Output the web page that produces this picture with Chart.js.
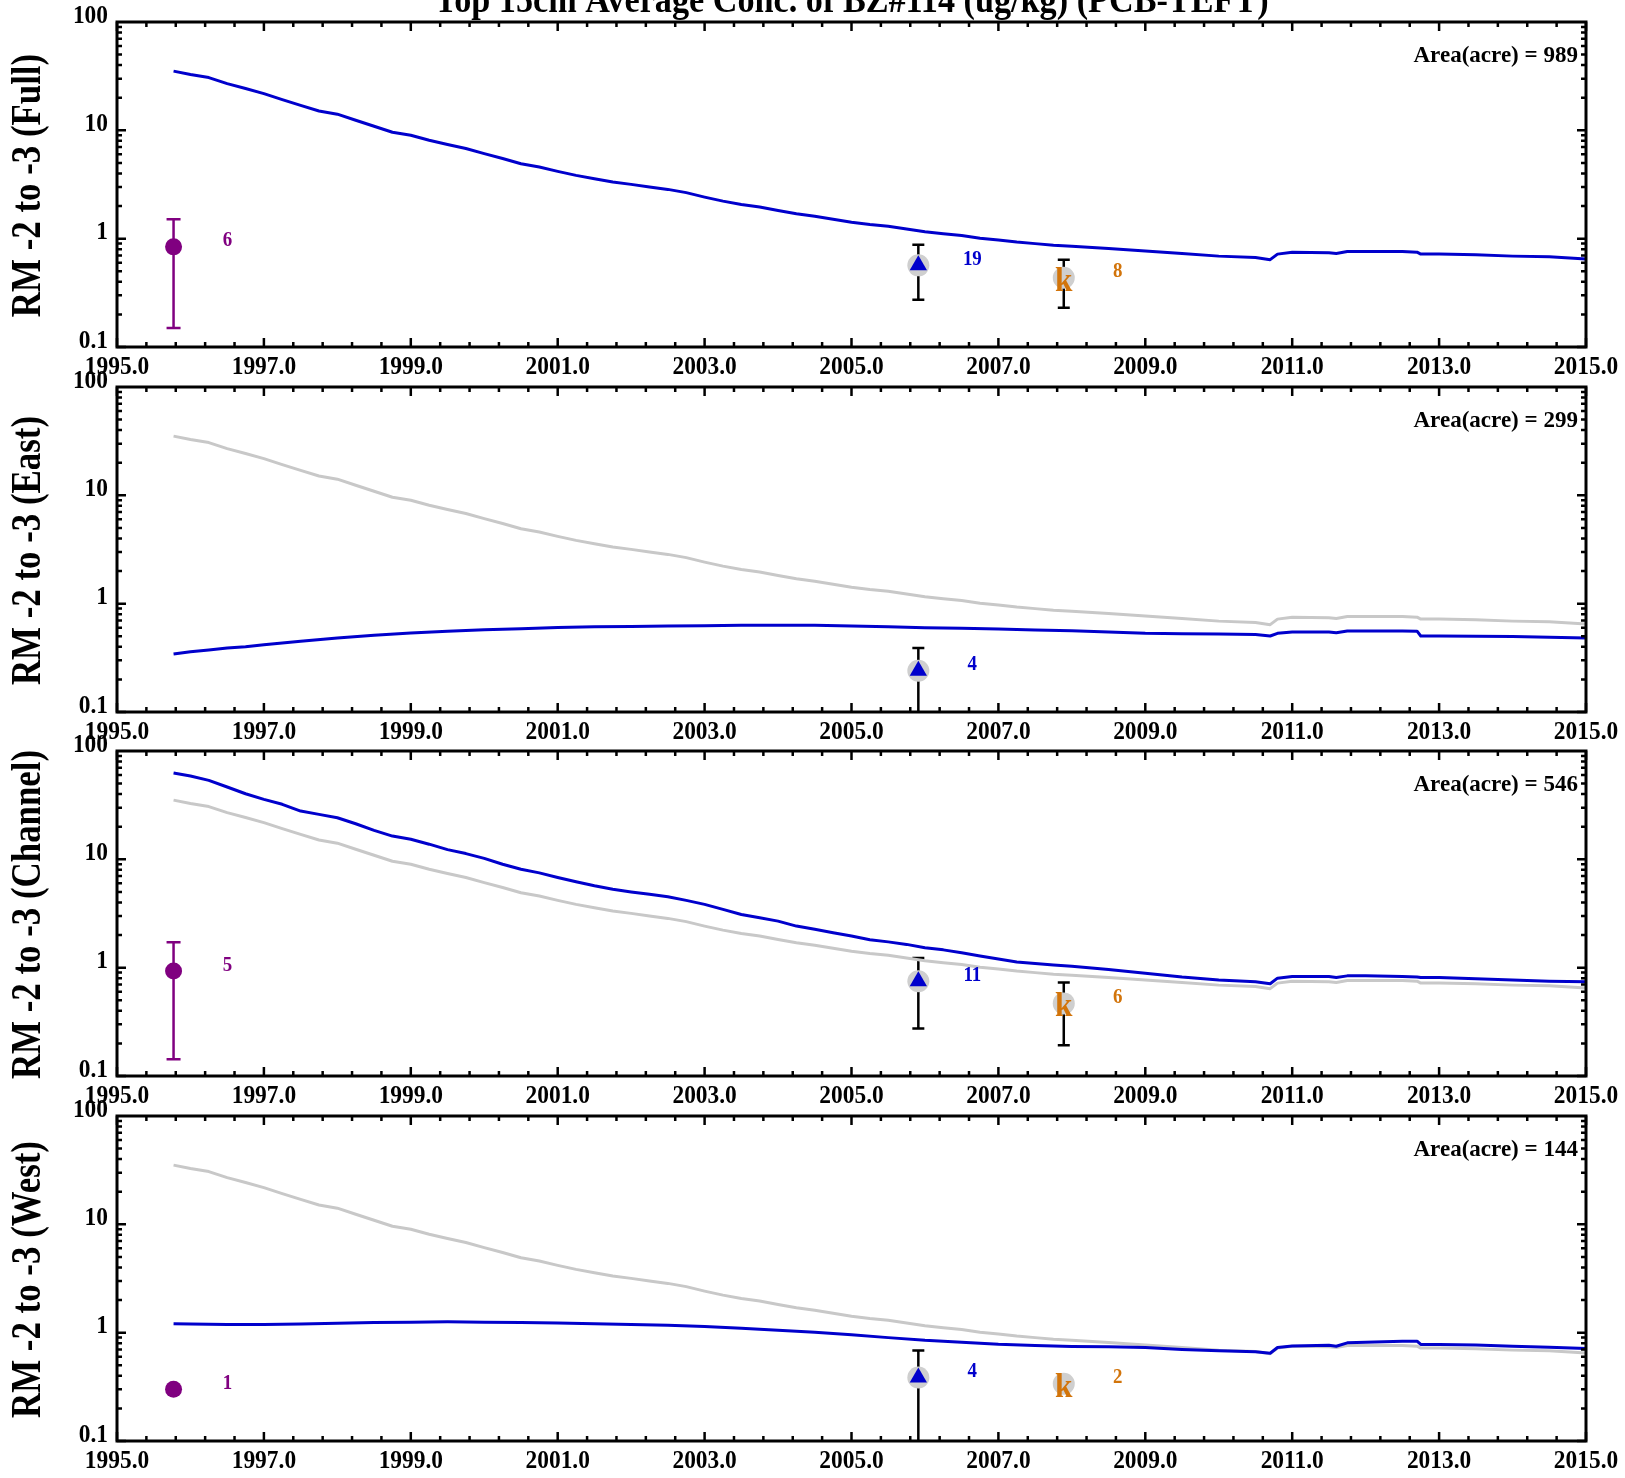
<!DOCTYPE html>
<html>
<head>
<meta charset="utf-8">
<script src="https://cdn.jsdelivr.net/npm/chart.js@4.4.1/dist/chart.umd.min.js"></script>
<style>
  body { margin: 0; background: #fff; width: 1625px; height: 1478px; overflow: hidden; position: relative; }
  canvas { position: absolute; left: 0; }
</style>
</head>
<body>
<canvas id="panel0" width="1625" height="400" style="top:0px"></canvas>
<canvas id="panel1" width="1625" height="400" style="top:365px"></canvas>
<canvas id="panel2" width="1625" height="400" style="top:729px"></canvas>
<canvas id="panel3" width="1625" height="400" style="top:1094px"></canvas>
<script>
// ---- data ----
const titleText = 'Top 15cm Average Conc. of BZ#114 (ug/kg) (PCB-TEFT)';
const panelNames = ['Full', 'East', 'Channel', 'West'];
const panelAreas = [989, 299, 546, 144];
const xTickValues = [1995, 1997, 1999, 2001, 2003, 2005, 2007, 2009, 2011, 2013, 2015];
const yTickValues = [0.1, 1, 10, 100];

const fullYears = [1995.77, 1996, 1996.25, 1996.5, 1996.75, 1997, 1997.25, 1997.5, 1997.75, 1998, 1998.25, 1998.5, 1998.75,
  1999, 1999.25, 1999.5, 1999.75, 2000, 2000.25, 2000.5, 2000.75, 2001, 2001.25, 2001.5, 2001.75, 2002, 2002.25, 2002.5,
  2002.75, 2003, 2003.25, 2003.5, 2003.75, 2004, 2004.25, 2004.5, 2004.75, 2005, 2005.25, 2005.5, 2005.75, 2006, 2006.25,
  2006.5, 2006.75, 2007, 2007.25, 2007.5, 2007.75, 2008, 2008.5, 2009, 2009.5, 2010, 2010.5, 2010.7, 2010.8, 2011, 2011.5,
  2011.6, 2011.75, 2012, 2012.5, 2012.7, 2012.75, 2013, 2013.5, 2014, 2014.5, 2015];
const fullValues = [35.2, 32.7, 30.7, 27, 24.3, 21.8, 19.2, 17, 15.1, 14.1, 12.4, 10.9, 9.6,
  9.0, 8.1, 7.4, 6.8, 6.1, 5.5, 4.92, 4.58, 4.18, 3.84, 3.58, 3.33, 3.17, 3.0, 2.85,
  2.66, 2.42, 2.22, 2.07, 1.96, 1.82, 1.70, 1.61, 1.51, 1.42, 1.35, 1.30, 1.23, 1.16, 1.11,
  1.07, 1.01, 0.97, 0.93, 0.90, 0.87, 0.85, 0.81, 0.77, 0.73, 0.69, 0.67, 0.64, 0.72, 0.75, 0.74,
  0.73, 0.76, 0.76, 0.76, 0.75, 0.72, 0.72, 0.71, 0.69, 0.68, 0.65];

const channelYears = fullYears;
const channelValues = [62.7, 58.7, 53.6, 46.5, 40.3, 35.8, 32.2, 27.9, 26.0, 24.2, 21.3, 18.5, 16.4,
  15.3, 13.8, 12.3, 11.3, 10.2, 9.0, 8.1, 7.5, 6.8, 6.2, 5.7, 5.3, 5.0, 4.75, 4.52,
  4.18, 3.84, 3.45, 3.1, 2.89, 2.69, 2.42, 2.26, 2.1, 1.96, 1.81, 1.73, 1.64, 1.53, 1.46,
  1.37, 1.28, 1.20, 1.13, 1.09, 1.06, 1.03, 0.96, 0.89, 0.82, 0.77, 0.74, 0.71, 0.80, 0.83, 0.83,
  0.81, 0.84, 0.84, 0.83, 0.82, 0.81, 0.81, 0.79, 0.77, 0.75, 0.74];

const eastYears = [1995.77, 1996, 1996.25, 1996.5, 1996.75, 1997, 1997.5, 1998, 1998.5, 1999, 1999.5, 2000, 2000.5,
  2001, 2001.5, 2002, 2002.5, 2003, 2003.5, 2004, 2004.5, 2005, 2005.5, 2006, 2006.5, 2007, 2007.5, 2008, 2008.5,
  2009, 2009.5, 2010, 2010.5, 2010.7, 2010.8, 2011, 2011.5, 2011.6, 2011.75, 2012, 2012.5, 2012.7, 2012.75, 2013,
  2013.5, 2014, 2014.5, 2015];
const eastValues = [0.343, 0.36, 0.374, 0.39, 0.40, 0.418, 0.449, 0.482, 0.51, 0.536, 0.555, 0.575, 0.588,
  0.604, 0.613, 0.617, 0.622, 0.626, 0.631, 0.631, 0.631, 0.622, 0.613, 0.60, 0.592, 0.584, 0.571, 0.563, 0.548,
  0.532, 0.528, 0.524, 0.52, 0.503, 0.532, 0.548, 0.548, 0.54, 0.56, 0.56, 0.56, 0.557, 0.503, 0.503,
  0.50, 0.497, 0.489, 0.482];

const westYears = [1995.77, 1996, 1996.5, 1997, 1997.5, 1998, 1998.5, 1999, 1999.5, 2000, 2000.5, 2001, 2001.5,
  2002, 2002.5, 2003, 2003.5, 2004, 2004.5, 2005, 2005.5, 2006, 2006.5, 2007, 2007.5, 2008, 2008.5, 2009, 2009.5,
  2010, 2010.5, 2010.7, 2010.8, 2011, 2011.5, 2011.6, 2011.75, 2012, 2012.5, 2012.7, 2012.75, 2013, 2013.5, 2014,
  2014.5, 2015];
const westValues = [1.21, 1.2, 1.19, 1.19, 1.20, 1.22, 1.24, 1.25, 1.26, 1.25, 1.24, 1.23, 1.21,
  1.19, 1.17, 1.14, 1.10, 1.05, 1.01, 0.955, 0.90, 0.85, 0.817, 0.78, 0.76, 0.745, 0.74, 0.73, 0.70,
  0.68, 0.665, 0.645, 0.73, 0.755, 0.765, 0.75, 0.805, 0.817, 0.835, 0.835, 0.778, 0.778, 0.77, 0.75,
  0.735, 0.715];

// observed data markers, one entry per panel (null = not shown)
const purpleYear = 1995.77, triYear = 2005.91, kYear = 2007.89;
const purpleMean = [0.84, null, 0.93, 0.30];
const purpleLow = [0.15, null, 0.143, null];
const purpleHigh = [1.51, null, 1.72, null];
const purpleCount = ['6', null, '5', '1'];
const triMean = [0.567, 0.24, 0.75, 0.385];
const triLow = [0.273, 0.08, 0.275, 0.08];
const triHigh = [0.88, 0.39, 1.23, 0.684];
const triCount = ['19', '4', '11', '4'];
const kMean = [0.436, null, 0.468, 0.337];
const kLow = [0.23, null, 0.192, null];
const kHigh = [0.64, null, 0.73, null];
const kCount = ['8', null, '6', '2'];

const lineYears = [fullYears, eastYears, channelYears, westYears];
const lineValues = [fullValues, eastValues, channelValues, westValues];

// ---- styles ----
const BLUE = '#0000cc', GRAY = '#c8c8c8', BG = '#cfcfcf', PURPLE = '#800080', ORANGE = '#d2740a';
const FONT = '"Liberation Serif", "Times New Roman", serif';

function drawText(ctx, s, x, y, size, align, squeeze, color, rot, baseline) {
  ctx.save();
  ctx.translate(x, y);
  if (rot) ctx.rotate(rot);
  ctx.scale(squeeze, 1);
  ctx.font = 'bold ' + size + 'px ' + FONT;
  ctx.textAlign = align;
  ctx.textBaseline = baseline || 'middle';
  ctx.fillStyle = color;
  ctx.fillText(s, 0, 0);
  ctx.restore();
}

function errBar(ctx, x, y, yr, lo, hi, color, half) {
  if (lo == null) return;
  const px = x.getPixelForValue(yr);
  const y1 = y.getPixelForValue(hi), y2 = y.getPixelForValue(lo);
  ctx.strokeStyle = color;
  ctx.lineWidth = 2.5;
  ctx.beginPath();
  ctx.moveTo(px, y1); ctx.lineTo(px, y2);
  ctx.moveTo(px - half, y1); ctx.lineTo(px + half, y1);
  ctx.moveTo(px - half, y2); ctx.lineTo(px + half, y2);
  ctx.stroke();
}

function decor(p) {
  return {
    id: 'decor' + p,
    beforeDatasetsDraw(chart) {
      const { ctx, chartArea: a, scales: { x, y } } = chart;
      ctx.save();
      ctx.beginPath();
      ctx.rect(a.left, a.top, a.right - a.left, a.bottom - a.top);
      ctx.clip();
      errBar(ctx, x, y, purpleYear, purpleLow[p], purpleHigh[p], PURPLE, 7);
      errBar(ctx, x, y, triYear, triLow[p], triHigh[p], '#000', 6);
      errBar(ctx, x, y, kYear, kLow[p], kHigh[p], '#000', 6);
      ctx.restore();
    },
    afterDatasetsDraw(chart) {
      const { ctx, scales: { x, y } } = chart;
      if (kMean[p] != null) {
        drawText(ctx, 'k', x.getPixelForValue(kYear), y.getPixelForValue(kMean[p]) + 13, 34, 'center', 0.92, ORANGE, 0, 'alphabetic');
      }
      const lab = (yr, v, s, c) => {
        if (v == null) return;
        drawText(ctx, s, x.getPixelForValue(yr) + 54, y.getPixelForValue(v) - 6, 21, 'center', 0.9, c);
      };
      lab(purpleYear, purpleMean[p], purpleCount[p], PURPLE);
      lab(triYear, triMean[p], triCount[p], BLUE);
      lab(kYear, kMean[p], kCount[p], ORANGE);
    },
    afterDraw(chart) {
      const { ctx, chartArea: a, scales: { x, y } } = chart;
      ctx.save();
      ctx.strokeStyle = '#000';
      ctx.lineWidth = 2.5;
      ctx.beginPath();
      for (let i = 0; i <= 50; i++) {
        const px = x.getPixelForValue(1995 + i * 0.4);
        const len = i % 5 === 0 ? 9 : 5;
        ctx.moveTo(px, a.bottom); ctx.lineTo(px, a.bottom - len);
        ctx.moveTo(px, a.top); ctx.lineTo(px, a.top + len);
      }
      [0.1, 1, 10].forEach(d => {
        for (let m = 1; m <= 9; m++) {
          const py = y.getPixelForValue(d * m);
          const len = m === 1 ? 9 : 5;
          ctx.moveTo(a.left, py); ctx.lineTo(a.left + len, py);
          ctx.moveTo(a.right, py); ctx.lineTo(a.right - len, py);
        }
      });
      ctx.stroke();
      ctx.lineWidth = 3;
      ctx.strokeRect(a.left, a.top, a.right - a.left, a.bottom - a.top);
      ctx.restore();

      x.ticks.forEach(t => {
        drawText(ctx, t.value.toFixed(1), x.getPixelForValue(t.value), a.bottom + 20, 26, 'center', 0.9, '#000');
      });
      y.ticks.forEach(t => {
        drawText(ctx, String(t.value), a.left - 9, y.getPixelForValue(t.value) - 6, 26, 'right', 0.9, '#000');
      });
      drawText(ctx, 'RM -2 to -3 (' + panelNames[p] + ')', 29, (a.top + a.bottom) / 2 + 1, 42, 'center', 0.83, '#000', -Math.PI / 2);
      drawText(ctx, 'Area(acre) = ' + panelAreas[p], a.right - 8, a.top + 34, 24, 'right', 0.96, '#000');
      if (p === 0) {
        drawText(ctx, titleText, (a.left + a.right) / 2, 12, 38, 'center', 0.9, '#000', 0, 'alphabetic');
      }
    }
  };
}

function makePanel(p) {
  const pts = (xs, ys) => xs.map((v, i) => ({ x: v, y: ys[i] }));
  const datasets = [];
  datasets.push({ data: [{ x: triYear, y: triMean[p] }], pointStyle: 'triangle', pointRadius: 10,
    backgroundColor: BLUE, borderWidth: 0 });
  datasets.push({ data: [{ x: triYear, y: triMean[p] }], pointRadius: 11, backgroundColor: BG, borderWidth: 0 });
  if (kMean[p] != null) {
    datasets.push({ data: [{ x: kYear, y: kMean[p] }], pointRadius: 11, backgroundColor: BG, borderWidth: 0 });
  }
  if (purpleMean[p] != null) {
    datasets.push({ data: [{ x: purpleYear, y: purpleMean[p] }], pointRadius: 8.5, backgroundColor: PURPLE, borderWidth: 0 });
  }
  datasets.push({ data: pts(lineYears[p], lineValues[p]), showLine: true, pointRadius: 0,
    borderColor: BLUE, borderWidth: 3, tension: 0, borderJoinStyle: 'round' });
  if (p > 0) {
    datasets.push({ data: pts(fullYears, fullValues), showLine: true, pointRadius: 0,
      borderColor: GRAY, borderWidth: 3, tension: 0, borderJoinStyle: 'round' });
  }

  new Chart(document.getElementById('panel' + p), {
    type: 'scatter',
    data: { datasets },
    options: {
      responsive: false,
      animation: false,
      devicePixelRatio: 1,
      layout: { padding: { top: 22, right: 39, left: 0, bottom: 0 } },
      plugins: { legend: { display: false }, tooltip: { enabled: false } },
      scales: {
        x: {
          type: 'linear', min: 1995, max: 2015,
          grid: { display: false, drawTicks: false },
          border: { display: false },
          ticks: { display: false },
          afterBuildTicks: s => { s.ticks = xTickValues.map(v => ({ value: v })); },
          afterFit: s => { s.height = 53; }
        },
        y: {
          type: 'logarithmic', min: 0.1, max: 100,
          grid: { display: false, drawTicks: false },
          border: { display: false },
          ticks: { display: false },
          afterBuildTicks: s => { s.ticks = yTickValues.map(v => ({ value: v })); },
          afterFit: s => { s.width = 117; }
        }
      }
    },
    plugins: [decor(p)]
  });
}

[0, 1, 2, 3].forEach(makePanel);
</script>
</body>
</html>
